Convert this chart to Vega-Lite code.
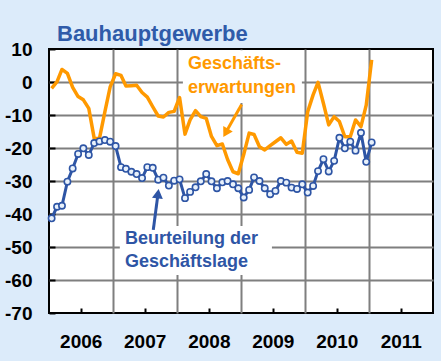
{
  "$schema": "https://vega.github.io/schema/vega-lite/v6.json",
  "width": 384,
  "height": 264,
  "autosize": {"type": "none"},
  "padding": {"left": 49, "top": 49, "right": 8, "bottom": 48},
  "background": "#dcebfa",
  "title": {
    "text": "Bauhauptgewerbe",
    "anchor": "start",
    "frame": "group",
    "dx": 8,
    "offset": -23,
    "baseline": "alphabetic",
    "font": "Liberation Sans",
    "fontSize": 22,
    "fontWeight": "bold",
    "color": "#2f5ba9"
  },
  "config": {
    "view": {"fill": "white", "stroke": "black", "strokeWidth": 2},
    "font": "Liberation Sans"
  },
  "datasets": {
    "ifo": [
      {"d": "2006-01-16", "lage": -41.3, "erw": -1.9},
      {"d": "2006-02-16", "lage": -37.8, "erw": 0.1},
      {"d": "2006-03-16", "lage": -37.5, "erw": 3.8},
      {"d": "2006-04-16", "lage": -30.2, "erw": 2.6},
      {"d": "2006-05-16", "lage": -26.2, "erw": -1.6},
      {"d": "2006-06-16", "lage": -21.8, "erw": -4.4},
      {"d": "2006-07-16", "lage": -20.1, "erw": -5.4},
      {"d": "2006-08-16", "lage": -22.1, "erw": -8.0},
      {"d": "2006-09-16", "lage": -18.5, "erw": -17.1},
      {"d": "2006-10-16", "lage": -18.0, "erw": -17.1},
      {"d": "2006-11-16", "lage": -17.6, "erw": -9.0},
      {"d": "2006-12-16", "lage": -18.1, "erw": -1.5},
      {"d": "2007-01-16", "lage": -19.4, "erw": 2.5},
      {"d": "2007-02-16", "lage": -25.8, "erw": 2.0},
      {"d": "2007-03-16", "lage": -26.3, "erw": -1.2},
      {"d": "2007-04-16", "lage": -27.2, "erw": -1.1},
      {"d": "2007-05-16", "lage": -27.9, "erw": -1.0},
      {"d": "2007-06-16", "lage": -29.1, "erw": -3.2},
      {"d": "2007-07-16", "lage": -25.8, "erw": -4.6},
      {"d": "2007-08-16", "lage": -26.0, "erw": -7.5},
      {"d": "2007-09-16", "lage": -29.6, "erw": -10.3},
      {"d": "2007-10-16", "lage": -29.0, "erw": -10.6},
      {"d": "2007-11-16", "lage": -31.4, "erw": -9.2},
      {"d": "2007-12-16", "lage": -29.9, "erw": -8.9},
      {"d": "2008-01-16", "lage": -29.5, "erw": -4.7},
      {"d": "2008-02-16", "lage": -35.2, "erw": -15.8},
      {"d": "2008-03-16", "lage": -33.3, "erw": -11.5},
      {"d": "2008-04-16", "lage": -31.9, "erw": -8.7},
      {"d": "2008-05-16", "lage": -30.1, "erw": -10.5},
      {"d": "2008-06-16", "lage": -27.9, "erw": -11.0},
      {"d": "2008-07-16", "lage": -30.1, "erw": -16.5},
      {"d": "2008-08-16", "lage": -32.2, "erw": -19.3},
      {"d": "2008-09-16", "lage": -30.4, "erw": -18.8},
      {"d": "2008-10-16", "lage": -30.0, "erw": -23.5},
      {"d": "2008-11-16", "lage": -31.0, "erw": -27.2},
      {"d": "2008-12-16", "lage": -32.2, "erw": -27.8},
      {"d": "2009-01-16", "lage": -35.0, "erw": -22.0},
      {"d": "2009-02-16", "lage": -32.7, "erw": -15.5},
      {"d": "2009-03-16", "lage": -28.9, "erw": -15.9},
      {"d": "2009-04-16", "lage": -30.0, "erw": -19.6},
      {"d": "2009-05-16", "lage": -32.2, "erw": -20.6},
      {"d": "2009-06-16", "lage": -34.0, "erw": -19.3},
      {"d": "2009-07-16", "lage": -33.0, "erw": -18.1},
      {"d": "2009-08-16", "lage": -30.0, "erw": -16.9},
      {"d": "2009-09-16", "lage": -30.5, "erw": -18.9},
      {"d": "2009-10-16", "lage": -32.0, "erw": -17.9},
      {"d": "2009-11-16", "lage": -32.4, "erw": -21.3},
      {"d": "2009-12-16", "lage": -31.0, "erw": -21.6},
      {"d": "2010-01-16", "lage": -33.5, "erw": -9.0},
      {"d": "2010-02-16", "lage": -31.5, "erw": -3.9},
      {"d": "2010-03-16", "lage": -27.0, "erw": -0.1},
      {"d": "2010-04-16", "lage": -23.4, "erw": -6.5},
      {"d": "2010-05-16", "lage": -27.1, "erw": -13.0},
      {"d": "2010-06-16", "lage": -23.9, "erw": -10.5},
      {"d": "2010-07-16", "lage": -16.9, "erw": -12.0},
      {"d": "2010-08-16", "lage": -20.1, "erw": -16.6},
      {"d": "2010-09-16", "lage": -18.1, "erw": -16.6},
      {"d": "2010-10-16", "lage": -20.8, "erw": -11.5},
      {"d": "2010-11-16", "lage": -15.4, "erw": -13.5},
      {"d": "2010-12-16", "lage": -24.2, "erw": -7.0},
      {"d": "2011-01-16", "lage": -18.3, "erw": 6.7}
    ]
  },
  "encoding": {
    "x": {
      "field": "d",
      "type": "temporal",
      "scale": {
        "type": "utc",
        "domain": [
          {"year": 2006, "month": 1, "date": 1, "utc": true},
          {"year": 2012, "month": 1, "date": 1, "utc": true}
        ]
      },
      "axis": {
        "title": null,
        "domain": false,
        "values": [
          {"year": 2006, "month": 1, "date": 1, "utc": true},
          {"year": 2006, "month": 7, "date": 1, "utc": true},
          {"year": 2007, "month": 1, "date": 1, "utc": true},
          {"year": 2007, "month": 7, "date": 1, "utc": true},
          {"year": 2008, "month": 1, "date": 1, "utc": true},
          {"year": 2008, "month": 7, "date": 1, "utc": true},
          {"year": 2009, "month": 1, "date": 1, "utc": true},
          {"year": 2009, "month": 7, "date": 1, "utc": true},
          {"year": 2010, "month": 1, "date": 1, "utc": true},
          {"year": 2010, "month": 7, "date": 1, "utc": true},
          {"year": 2011, "month": 1, "date": 1, "utc": true},
          {"year": 2011, "month": 7, "date": 1, "utc": true},
          {"year": 2012, "month": 1, "date": 1, "utc": true}
        ],
        "grid": true,
        "gridColor": "#7f7f7f",
        "gridWidth": 2,
        "gridOpacity": {"condition": {"test": "utcmonth(datum.value) == 6 || utcyear(datum.value) == 2006 || utcyear(datum.value) == 2012", "value": 0}, "value": 1},
        "ticks": true,
        "tickSize": -5,
        "tickWidth": 2,
        "tickColor": "black",
        "tickOpacity": {"condition": {"test": "utcmonth(datum.value) == 6", "value": 1}, "value": 0},
        "labelExpr": "utcmonth(datum.value) == 6 ? utcFormat(datum.value, '%Y') : ''",
        "labelFont": "Liberation Sans",
        "labelFontSize": 19,
        "labelFontWeight": "bold",
        "labelColor": "black",
        "labelBaseline": "middle",
        "labelAlign": "center",
        "labelPadding": 33,
        "labelFlush": false,
        "labelOverlap": false
      }
    },
    "y": {
      "field": "v",
      "type": "quantitative",
      "scale": {"domain": [-70, 10], "nice": false, "zero": false},
      "axis": {
        "title": null,
        "domain": false,
        "values": [10, 0, -10, -20, -30, -40, -50, -60, -70],
        "labelExpr": "'' + datum.value",
        "grid": true,
        "gridColor": "#7f7f7f",
        "gridWidth": 2,
        "gridOpacity": {"condition": {"test": "datum.value == 10 || datum.value == -70", "value": 0}, "value": 1},
        "ticks": true,
        "tickSize": -6,
        "tickWidth": 2,
        "tickColor": "black",
        "labelFont": "Liberation Sans",
        "labelFontSize": 19,
        "labelFontWeight": "bold",
        "labelColor": "black",
        "labelPadding": 23,
        "labelFlush": false,
        "labelOverlap": false
      }
    }
  },
  "layer": [
    {
      "data": {"values": [
        {"a": "2008-02-04", "b": "2009-12-14", "v": 9.6, "v2": -6.4},
        {"a": "2007-02-09", "b": "2009-06-26", "v": -43.6, "v2": -58.5}
      ]},
      "mark": {"type": "rect", "color": "white"},
      "encoding": {
        "x": {"field": "a", "type": "temporal"},
        "x2": {"field": "b"},
        "y2": {"field": "v2"}
      }
    },
    {
      "data": {"name": "ifo"},
      "transform": [{"fold": ["erw"], "as": ["s", "v"]}],
      "mark": {"type": "line", "color": "#ff9900", "strokeWidth": 3.5, "strokeJoin": "round"}
    },
    {
      "data": {"name": "ifo"},
      "transform": [{"fold": ["lage"], "as": ["s", "v"]}],
      "mark": {"type": "line", "color": "#2e55a5", "strokeWidth": 3, "strokeJoin": "round"}
    },
    {
      "data": {"name": "ifo"},
      "transform": [{"fold": ["lage"], "as": ["s", "v"]}],
      "mark": {"type": "point", "shape": "circle", "size": 40, "filled": true, "fill": "#e8f1fb", "stroke": "#2e55a5", "strokeWidth": 1.6, "opacity": 1}
    },
    {
      "data": {"values": [{"a": "2009-01-04", "b": "2008-10-05", "v": -6.8, "v2": -15.4}]},
      "mark": {"type": "rule", "color": "#ff9900", "strokeWidth": 3},
      "encoding": {
        "x": {"field": "a", "type": "temporal"},
        "x2": {"field": "b"},
        "y2": {"field": "v2"}
      }
    },
    {
      "data": {"values": [{"d": "2008-10-05", "v": -15.4}]},
      "mark": {"type": "point", "shape": "triangle-up", "size": 120, "filled": true, "color": "#ff9900", "opacity": 1, "angle": 209.6}
    },
    {
      "data": {"values": [{"a": "2007-08-19", "b": "2007-09-15", "v": -44.8, "v2": -33.85}]},
      "mark": {"type": "rule", "color": "#2e55a5", "strokeWidth": 3},
      "encoding": {
        "x": {"field": "a", "type": "temporal"},
        "x2": {"field": "b"},
        "y2": {"field": "v2"}
      }
    },
    {
      "data": {"values": [{"d": "2007-09-15", "v": -33.85}]},
      "mark": {"type": "point", "shape": "triangle-up", "size": 120, "filled": true, "color": "#2e55a5", "opacity": 1, "angle": 7.4}
    },
    {
      "data": {"values": [
        {"d": "2008-03-04", "v": 5.45, "t": "Geschäfts-"},
        {"d": "2008-03-04", "v": -1.8, "t": "erwartungen"}
      ]},
      "mark": {"type": "text", "align": "left", "baseline": "middle", "font": "Liberation Sans", "fontSize": 18, "fontWeight": "bold", "color": "#ff9900"},
      "encoding": {"text": {"field": "t"}}
    },
    {
      "data": {"values": [
        {"d": "2007-03-10", "v": -47.6, "t": "Beurteilung der"},
        {"d": "2007-03-10", "v": -54.5, "t": "Geschäftslage"}
      ]},
      "mark": {"type": "text", "align": "left", "baseline": "middle", "font": "Liberation Sans", "fontSize": 18, "fontWeight": "bold", "color": "#2e55a5"},
      "encoding": {"text": {"field": "t"}}
    }
  ]
}
